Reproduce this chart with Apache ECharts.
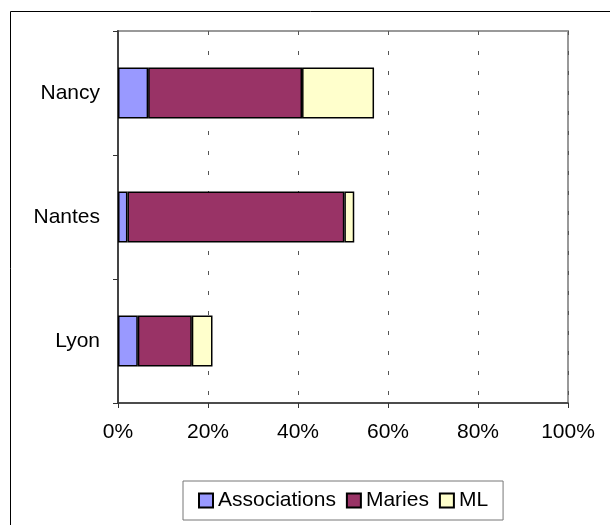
<!DOCTYPE html>
<html>
<head>
<meta charset="utf-8">
<script src="https://cdn.jsdelivr.net/npm/echarts@6/dist/echarts.min.js"></script>
<style>
  html, body { margin: 0; padding: 0; background: #fff; }
  #chart { width: 610px; height: 525px; }
</style>
</head>
<body>
<div id="chart"></div>
<script>
// categories, bottom to top
var cities = ['Lyon', 'Nantes', 'Nancy'];
var seriesNames = ['Associations', 'Maries', 'ML'];
// shares in %
var associations = [4.4, 2.1, 6.7];
var maries = [12.0, 48.2, 34.2];
var ml = [4.6, 2.2, 16.0];
var xTicks = [0, 20, 40, 60, 80, 100];

var colors = ['#9999FF', '#993366', '#FFFFCC'];
var font = '"Liberation Sans", Arial, sans-serif';

var chart = echarts.init(document.getElementById('chart'));

function bar(name, data, color) {
  return {
    name: name,
    type: 'bar',
    stack: 'total',
    barWidth: 51,
    data: data,
    itemStyle: { color: color, borderColor: '#000', borderWidth: 1.5 }
  };
}

chart.setOption({
  animation: false,
  textStyle: { fontFamily: font },
  graphic: [{
    type: 'rect',
    shape: { x: 10.5, y: 11.5, width: 700, height: 600 },
    style: { fill: 'none', stroke: '#000', lineWidth: 1 },
    silent: true
  }],
  grid: {
    left: 118, right: 42, top: 31, bottom: 122,
    show: true, borderColor: '#999', borderWidth: 2
  },
  legend: {
    left: 183, top: 481,
    padding: [9, 15],
    itemGap: 10,
    itemWidth: 14, itemHeight: 14,
    icon: 'rect',
    borderColor: '#777', borderWidth: 1,
    textStyle: { fontSize: 21, color: '#000', fontFamily: font },
    data: seriesNames
  },
  xAxis: {
    type: 'value',
    min: xTicks[0], max: xTicks[xTicks.length - 1], interval: 20,
    axisLine: { show: true, lineStyle: { color: '#333', width: 1.5 } },
    axisTick: { show: true, length: 5, lineStyle: { color: '#333' } },
    axisLabel: { formatter: '{value}%', fontSize: 21, color: '#000', margin: 19 },
    splitLine: { show: true, lineStyle: { color: '#555', type: [4, 16], width: 1 } }
  },
  yAxis: {
    type: 'category',
    data: cities,
    axisLine: { show: true, lineStyle: { color: '#444', width: 2 } },
    axisTick: { show: true, length: 5, lineStyle: { color: '#333' } },
    axisLabel: { fontSize: 21, color: '#000', margin: 18 }
  },
  series: [
    bar(seriesNames[0], associations, colors[0]),
    bar(seriesNames[1], maries, colors[1]),
    bar(seriesNames[2], ml, colors[2])
  ]
});
</script>
</body>
</html>
